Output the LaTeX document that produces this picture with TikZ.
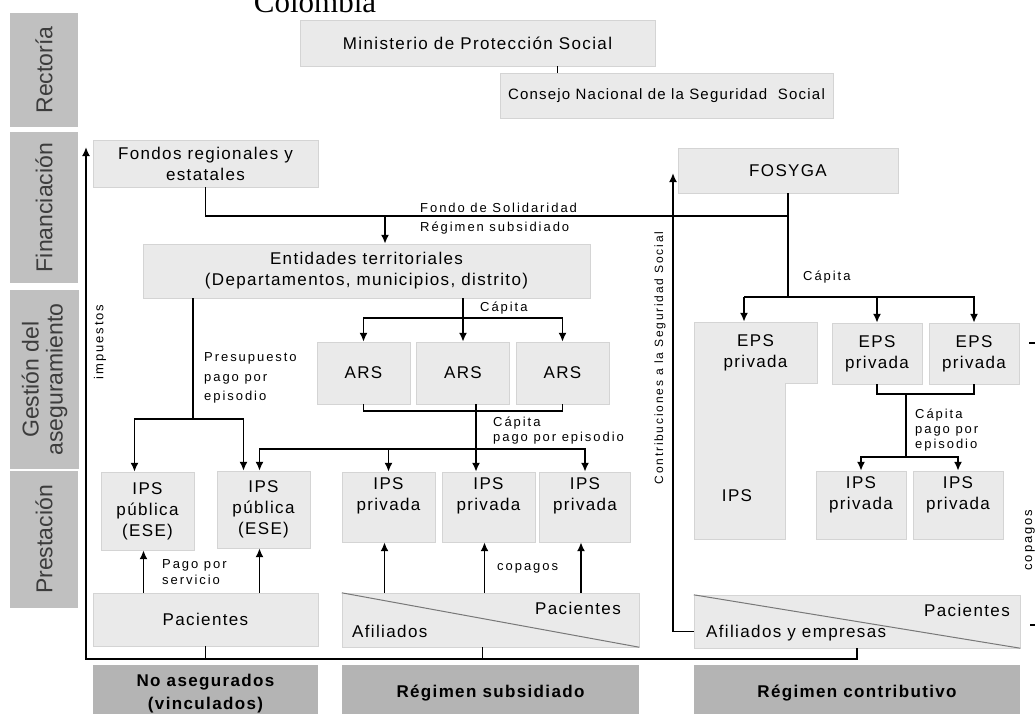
\documentclass[tikz,border=0pt]{standalone}
\usepackage{fontspec}
\setmainfont{Liberation Sans}[LetterSpace=8]
\newfontfamily\lblfont{Liberation Sans}[LetterSpace=15]
\newfontfamily\bandfont{Liberation Sans}
\newfontfamily\titlefont{Liberation Serif}
\usetikzlibrary{arrows.meta}
\definecolor{boxFill}{RGB}{234,234,234}
\definecolor{boxLine}{RGB}{212,212,212}
\definecolor{bandGray}{RGB}{192,192,192}
\definecolor{bandText}{RGB}{60,60,60}
\definecolor{catGray}{RGB}{180,180,180}
\definecolor{diagGray}{RGB}{120,120,120}
\tikzset{
  box/.style={draw=boxLine,fill=boxFill,align=center,inner sep=2pt,font=\fontsize{17}{21}\selectfont},
  ipstxt/.style={anchor=north,yshift=-2pt,align=center,font=\fontsize{17}{21}\selectfont},
  band/.style={fill=bandGray,text=bandText,rotate=90,align=center,inner sep=0pt,font=\bandfont\fontsize{23}{24}\selectfont},
  cat/.style={fill=catGray,align=center,font=\bfseries\fontsize{17}{23}\selectfont},
  lbl/.style={anchor=west,align=left,inner sep=0pt,font=\lblfont\fontsize{13}{15}\selectfont},
  link/.style={line width=1.8pt},
  arr/.style={line width=1.8pt,-{Latex[length=9pt,width=8pt]}},
  diag/.style={draw=diagGray,line width=1pt}
}

\begin{document}
\begin{tikzpicture}[x=1pt,y=-1pt]
\useasboundingbox (0,0) rectangle (1035,713);

\node[font=\titlefont\fontsize{31}{31}\selectfont,anchor=base] (title) at (315,12) {Colombia};

\node[band,minimum width=114pt,minimum height=68pt] (bandR) at (44,70) {Rectoría};
\node[band,minimum width=151pt,minimum height=68pt] (bandF) at (44,207.5) {Financiación};
\node[band,minimum width=179pt,minimum height=69pt] (bandG) at (44.5,379.5) {Gestión del\\aseguramiento};
\node[band,minimum width=137pt,minimum height=68pt] (bandP) at (44,539.5) {Prestación};

\node[box,minimum width=355pt,minimum height=46pt] (mps) at (477.5,43) {Ministerio de Protección Social};
\node[box,minimum width=333pt,minimum height=45pt,font=\fontsize{15}{18}\selectfont] (cnss) at (666.5,95.5) {Consejo Nacional de la Seguridad\ \ Social};
\draw[line width=1pt] (mps.south -| 557,0) -- (cnss.north -| 557,0);

\node[box,minimum width=225pt,minimum height=47pt] (fondos) at (205.5,163.5) {Fondos regionales y\\estatales};
\node[box,minimum width=220pt,minimum height=45pt] (fosyga) at (788,170.5) {FOSYGA};
\node[box,minimum width=447pt,minimum height=54pt] (entidades) at (366.5,271) {Entidades territoriales\\(Departamentos, municipios, distrito)};

\node[box,minimum width=93pt,minimum height=62pt] (ars1) at (363.5,373) {ARS};
\node[box,minimum width=93pt,minimum height=62pt] (ars2) at (463,373) {ARS};
\node[box,minimum width=93pt,minimum height=62pt] (ars3) at (562.5,373) {ARS};

\node[box,minimum width=93pt,minimum height=78pt] (ipsp1) at (147.5,511) {IPS\\pública\\(ESE)};
\node[box,minimum width=93pt,minimum height=77pt] (ipsp2) at (263.5,509.5) {IPS\\pública\\(ESE)};
\node[box,minimum width=93pt,minimum height=70pt,label={[ipstxt]north:IPS\\privada}] (ipsv1) at (388.5,507) {};
\node[box,minimum width=93pt,minimum height=70pt,label={[ipstxt]north:IPS\\privada}] (ipsv2) at (488.5,507) {};
\node[box,minimum width=91pt,minimum height=70pt,label={[ipstxt]north:IPS\\privada}] (ipsv3) at (585,507) {};

\draw[draw=boxLine,fill=boxFill] (694,322) -- (817,322) -- (817,383) -- (785,383) -- (785,539) -- (694,539) -- cycle;
\node[align=center,font=\fontsize{17}{21}\selectfont,minimum width=123pt,minimum height=61pt] (epsA) at (755.5,352.5) {EPS\\privada};
\node[font=\fontsize{17}{21}\selectfont] (ipsA) at (737,496) {IPS};
\node[box,minimum width=90pt,minimum height=61pt] (epsB) at (877,353.5) {EPS\\privada};
\node[box,minimum width=90pt,minimum height=61pt] (epsC) at (974,353.5) {EPS\\privada};
\node[box,minimum width=90pt,minimum height=68pt,label={[ipstxt]north:IPS\\privada}] (ipsr1) at (861,505) {};
\node[box,minimum width=90pt,minimum height=68pt,label={[ipstxt]north:IPS\\privada}] (ipsr2) at (958,505) {};

\node[box,minimum width=225pt,minimum height=53pt] (paciN) at (205.5,619.5) {Pacientes};
\node[box,minimum width=297pt,minimum height=54pt] (paciS) at (490.5,620) {};
\draw[diag] (paciS.north west) -- (paciS.south east);
\node[font=\fontsize{17}{21}\selectfont] (lblPacS) at (578,608) {Pacientes};
\node[font=\fontsize{17}{21}\selectfont,anchor=west,inner sep=0pt] (lblAfiS) at (352,631) {Afiliados};
\node[box,minimum width=326pt,minimum height=53pt] (paciC) at (857,621.5) {};
\draw[diag] (paciC.north west) -- (paciC.south east);
\node[font=\fontsize{17}{21}\selectfont] (lblPacC) at (967,610) {Pacientes};
\node[font=\fontsize{17}{21}\selectfont,anchor=west,inner sep=0pt] (lblAfiC) at (706,633) {Afiliados y empresas};

\node[cat,minimum width=225pt,minimum height=57pt] (catN) at (205.5,693.5) {No asegurados\\(vinculados)};
\node[cat,minimum width=297pt,minimum height=57pt] (catS) at (490.5,693.5) {Régimen subsidiado};
\node[cat,minimum width=326pt,minimum height=57pt] (catC) at (857,693.5) {Régimen contributivo};

\coordinate (fsol) at (385,216);
\coordinate (fosBus) at (744,297);
\coordinate (arsBus) at (463,318);
\coordinate (arsLow) at (463,411);
\coordinate (arsDrop) at (476,404);
\coordinate (ipsBus) at (476,449);
\coordinate (presJ) at (193,419);
\coordinate (epsJ) at (906,394);
\coordinate (ipsJ) at (906,457);
\coordinate (taxL) at (86,659);
\coordinate (taxTop) at (86,147);
\coordinate (contTop) at (673,173);
\coordinate (edgeA) at (1036,343);
\coordinate (edgeB) at (1029,343);
\coordinate (edgeC) at (1036,625);
\coordinate (edgeD) at (1030,625);

\draw[link] (fondos.south) |- (fsol) -| (fosyga.south);
\draw[arr] (fsol) -- (fsol |- entidades.north);
\draw[link] (fosyga.south) -- (fosyga.south |- fosBus);
\draw[arr] (fosBus) -- (fosBus |- epsA.north);
\draw[arr] (fosBus) -| (epsC.north);
\draw[arr] (epsB.north |- fosBus) -- (epsB.north);

\draw[arr] (entidades.south -| ars2.north) -- (ars2.north);
\draw[arr] (arsBus) -| (ars1.north);
\draw[arr] (arsBus) -| (ars3.north);
\draw[link] (ars1.south) |- (arsLow) -| (ars3.south);
\draw[arr] (arsDrop) -- (arsDrop |- ipsv2.north);
\draw[arr] (ipsBus) -| ([xshift=-4pt]ipsp2.north);
\draw[arr] (ipsBus) -| (ipsv3.north);
\draw[arr] (ipsv1.north |- ipsBus) -- (ipsv1.north);

\draw[link] (entidades.south -| presJ) -- (presJ);
\draw[arr] (presJ) -| ([xshift=-13pt]ipsp1.north);
\draw[arr] (presJ) -| ([xshift=-20pt]ipsp2.north);

\draw[link] (epsB.south) |- (epsJ) -| (epsC.south);
\draw[link] (epsJ) -- (ipsJ);
\draw[arr] (ipsJ) -| (ipsr1.north);
\draw[arr] (ipsJ) -| (ipsr2.north);

\draw[arr] ([xshift=-4pt]paciN.north -| ipsp1.south) -- ([xshift=-4pt]ipsp1.south);
\draw[arr] ([xshift=-4pt]paciN.north -| ipsp2.south) -- ([xshift=-4pt]ipsp2.south);
\draw[arr] ([xshift=-4pt]paciS.north -| ipsv1.south) -- ([xshift=-4pt]ipsv1.south);
\draw[arr] ([xshift=-4pt]paciS.north -| ipsv2.south) -- ([xshift=-4pt]ipsv2.south);
\draw[arr] ([xshift=-4pt]paciS.north -| ipsv3.south) -- ([xshift=-4pt]ipsv3.south);

\draw[arr] (paciC.south) |- (taxL) -- (taxTop);
\draw[link] (paciN.south) -- (paciN.south |- taxL);
\draw[link] ([xshift=-8pt]paciS.south) -- ([xshift=-8pt]paciS.south |- taxL);
\draw[arr] ([yshift=-10pt]paciC.west) -| (contTop);
\draw[line width=1.2pt] (edgeA) -- (edgeB);
\draw[line width=1.2pt] (edgeC) -- (edgeD);

\node[lbl] (lblFondo) at (420,208) {Fondo de Solidaridad};
\node[lbl] (lblRegimen) at (420,228) {Régimen subsidiado};
\node[lbl] (lblCapEnt) at (480,308) {Cápita};
\node[lbl,font=\lblfont\fontsize{13}{19.5}\selectfont] (lblPres) at (204,378) {Presupuesto\\pago por\\episodio};
\node[lbl] (lblCapArs) at (493,431) {Cápita\\pago por episodio};
\node[lbl,font=\lblfont\fontsize{13}{16}\selectfont] (lblPago) at (162,572) {Pago por\\servicio};
\node[lbl] (lblCopagos) at (497,568) {copagos};
\node[lbl] (lblCapFos) at (803,277) {Cápita};
\node[lbl] (lblCapEps) at (915,430) {Cápita\\pago por\\episodio};
\node[lbl,anchor=center,rotate=90] (lblImp) at (100,342) {impuestos};
\node[lbl,anchor=center,rotate=90,font=\lblfont\fontsize{12}{14}\selectfont] (lblContrib) at (660,358) {Contribuciones a la Seguridad Social};
\node[lbl,anchor=center,rotate=90] (lblCopR) at (1030,540) {copagos};
\end{tikzpicture}
\end{document}
